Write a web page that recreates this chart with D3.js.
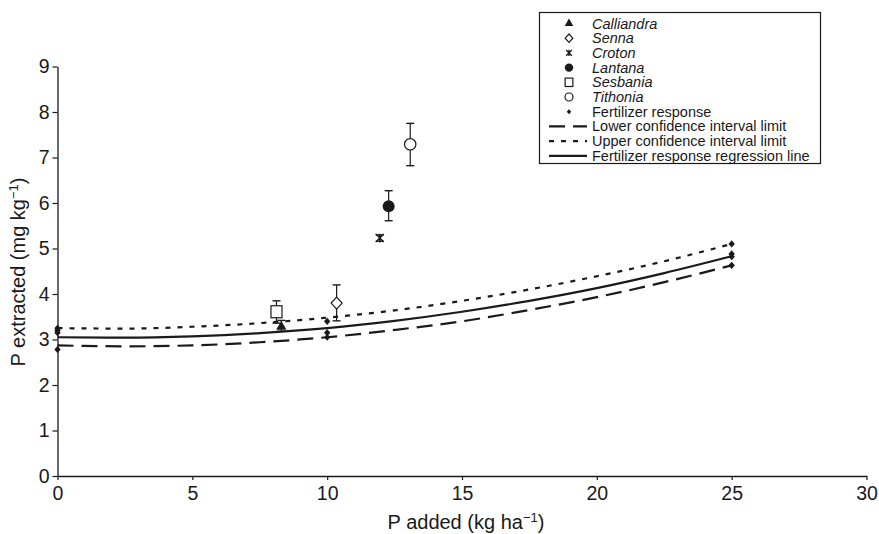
<!DOCTYPE html>
<html>
<head>
<meta charset="utf-8">
<script src="https://cdn.jsdelivr.net/npm/d3@7"></script>
<style>
  body { margin: 0; background: #fff; }
  svg { display: block; font-family: "Liberation Sans", Arial, sans-serif; }
</style>
</head>
<body>
<div id="chart"></div>
<script>
// species treatments: P added, P extracted, error bar low/high
const speciesNames = ["Calliandra", "Senna", "Croton", "Lantana", "Sesbania", "Tithonia"];
const speciesX = [8.3, 10.35, 11.95, 12.28, 8.12, 13.08];
const speciesY = [3.28, 3.80, 5.23, 5.93, 3.61, 7.29];
const speciesLow = [3.18, 3.41, 5.16, 5.61, 3.36, 6.82];
const speciesHigh = [3.42, 4.20, 5.30, 6.27, 3.85, 7.75];

// fertilizer response observations
const fertX = [0, 0, 0, 0, 10, 10, 10, 25, 25, 25, 25];
const fertY = [3.25, 3.20, 3.15, 2.78, 3.40, 3.15, 3.05, 5.10, 4.88, 4.82, 4.63];

// curves
const curveX = [0, 2.5, 5, 7.5, 10, 12.5, 15, 17.5, 20, 22.5, 25];
const regressionY = [3.05, 3.04, 3.07, 3.14, 3.25, 3.41, 3.61, 3.85, 4.13, 4.46, 4.83];
const upperY = [3.25, 3.24, 3.28, 3.36, 3.48, 3.64, 3.85, 4.10, 4.39, 4.72, 5.10];
const lowerY = [2.87, 2.85, 2.87, 2.94, 3.05, 3.21, 3.40, 3.65, 3.93, 4.26, 4.63];

const xTicks = [0, 5, 10, 15, 20, 25, 30];
const yTicks = [0, 1, 2, 3, 4, 5, 6, 7, 8, 9];

const width = 879, height = 534;
const svg = d3.select("#chart").append("svg")
  .attr("width", width).attr("height", height);
svg.append("rect").attr("width", width).attr("height", height).attr("fill", "#fff");

const x = d3.scaleLinear().domain([0, 30]).range([57.5, 866.5]);
const y = d3.scaleLinear().domain([0, 9]).range([476, 66.5]);
const ink = "#1a1a1a";

// axes
const xAxis = svg.append("g").attr("transform", `translate(0,${y(0)})`)
  .call(d3.axisBottom(x).tickValues(xTicks).tickSize(4).tickPadding(6).tickSizeOuter(0));
const yAxis = svg.append("g").attr("transform", `translate(${x(0)},0)`)
  .call(d3.axisLeft(y).tickValues(yTicks).tickSize(5).tickPadding(3).tickSizeOuter(0));
[xAxis, yAxis].forEach(a => {
  a.select(".domain").attr("stroke", ink).attr("stroke-width", 1.3);
  a.selectAll(".tick line").attr("stroke", ink).attr("stroke-width", 1.2);
  a.selectAll("text").attr("fill", ink).style("font-size", "19.5px")
    .style("font-family", "'Liberation Sans', Arial, sans-serif");
});

// axis titles
const xTitle = svg.append("text").attr("x", 466).attr("y", 529)
  .attr("text-anchor", "middle").attr("fill", ink).style("font-size", "20px");
xTitle.append("tspan").text("P added (kg ha");
xTitle.append("tspan").text("\u22121").attr("dy", -7).style("font-size", "13px");
xTitle.append("tspan").text(")").attr("dy", 7);

const yTitle = svg.append("text").attr("transform", "translate(25,272) rotate(-90)")
  .attr("text-anchor", "middle").attr("fill", ink).style("font-size", "20px");
yTitle.append("tspan").text("P extracted (mg kg");
yTitle.append("tspan").text("\u22121").attr("dy", -7).style("font-size", "13px");
yTitle.append("tspan").text(")").attr("dy", 7);

// curves
const line = d3.line().x(d => x(d[0])).y(d => y(d[1])).curve(d3.curveMonotoneX);
const curves = [
  { vals: lowerY, dash: "16,8" },
  { vals: upperY, dash: "5,7" },
  { vals: regressionY, dash: null }
];
curves.forEach(c => {
  svg.append("path")
    .datum(curveX.map((v, i) => [v, c.vals[i]]))
    .attr("d", line)
    .attr("fill", "none").attr("stroke", ink).attr("stroke-width", 2.2)
    .attr("stroke-dasharray", c.dash);
});

// symbols
function drawSymbol(g, name, cx, cy, scale) {
  const s = scale || 1;
  if (name === "Calliandra") {
    g.append("path").attr("d", d3.symbol(d3.symbolTriangle, 45 * s)())
      .attr("transform", `translate(${cx},${cy})`).attr("fill", ink);
  } else if (name === "Senna") {
    g.append("path").attr("d", `M0,${-6 * s}L${5.5 * s},0L0,${6 * s}L${-5.5 * s},0Z`)
      .attr("transform", `translate(${cx},${cy})`).attr("fill", "#fff").attr("stroke", ink).attr("stroke-width", 1.2);
  } else if (name === "Croton") {
    const r = 4 * s;
    g.append("path")
      .attr("d", `M${-r},${-r}L${r},${r}M${r},${-r}L${-r},${r}M0,${-r * 1.1}L0,${r * 1.1}`)
      .attr("transform", `translate(${cx},${cy})`).attr("fill", "none").attr("stroke", ink).attr("stroke-width", 1.4);
  } else if (name === "Lantana") {
    g.append("circle").attr("cx", cx).attr("cy", cy).attr("r", 6 * s).attr("fill", ink);
  } else if (name === "Sesbania") {
    g.append("rect").attr("x", cx - 5.5 * s).attr("y", cy - 6 * s).attr("width", 11 * s).attr("height", 12 * s)
      .attr("fill", "#fff").attr("stroke", ink).attr("stroke-width", 1.2);
  } else if (name === "Tithonia") {
    g.append("circle").attr("cx", cx).attr("cy", cy).attr("r", 5.7 * s)
      .attr("fill", "#fff").attr("stroke", ink).attr("stroke-width", 1.2);
  } else if (name === "Fertilizer") {
    g.append("path").attr("d", `M0,${-3.6 * s}L${3.2 * s},0L0,${3.6 * s}L${-3.2 * s},0Z`)
      .attr("transform", `translate(${cx},${cy})`).attr("fill", ink);
  }
}

// fertilizer points
const fertG = svg.append("g");
fertX.forEach((v, i) => drawSymbol(fertG, "Fertilizer", x(v), y(fertY[i])));

// species with error bars
const spG = svg.append("g");
speciesNames.forEach((name, i) => {
  const cx = x(speciesX[i]);
  const g = spG.append("g");
  g.append("line").attr("x1", cx).attr("x2", cx)
    .attr("y1", y(speciesLow[i])).attr("y2", y(speciesHigh[i]))
    .attr("stroke", ink).attr("stroke-width", 1.2);
  [speciesLow[i], speciesHigh[i]].forEach(v => {
    g.append("line").attr("x1", cx - 4).attr("x2", cx + 4)
      .attr("y1", y(v)).attr("y2", y(v)).attr("stroke", ink).attr("stroke-width", 1.4);
  });
  drawSymbol(g, name, cx, y(speciesY[i]));
});

// legend
const legend = svg.append("g");
legend.append("rect").attr("x", 539.5).attr("y", 12.5).attr("width", 281).attr("height", 151)
  .attr("fill", "#fff").attr("stroke", ink).attr("stroke-width", 1.2);
const legendItems = speciesNames.map(n => ({ label: n, sym: n, italic: true }))
  .concat([
    { label: "Fertilizer response", sym: "Fertilizer" },
    { label: "Lower confidence interval limit", dash: "16,8" },
    { label: "Upper confidence interval limit", dash: "5,7" },
    { label: "Fertilizer response regression line", dash: "none" }
  ]);
legendItems.forEach((d, i) => {
  const cy = 23.5 + i * 14.7;
  if (d.sym) {
    drawSymbol(legend, d.sym, 569, cy, 0.7);
  } else {
    legend.append("line").attr("x1", 549).attr("x2", 587).attr("y1", cy).attr("y2", cy)
      .attr("stroke", ink).attr("stroke-width", 2.2)
      .attr("stroke-dasharray", d.dash === "none" ? null : d.dash);
  }
  legend.append("text").attr("x", 592).attr("y", cy + 5)
    .attr("fill", ink).style("font-size", "14.5px")
    .style("font-style", d.italic ? "italic" : "normal")
    .text(d.label);
});
</script>
</body>
</html>
